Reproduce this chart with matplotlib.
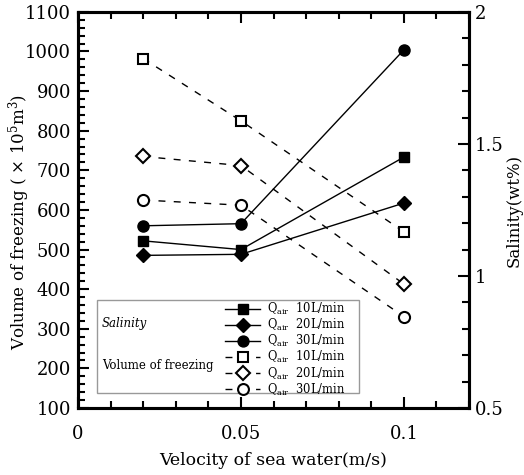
import matplotlib
matplotlib.use("Agg")
import matplotlib.pyplot as plt
from matplotlib.patches import Rectangle
from matplotlib.ticker import MultipleLocator

plt.rcParams['font.family'] = 'DejaVu Serif'
plt.rcParams['mathtext.fontset'] = 'dejavuserif'

# data
velocity = [0.02, 0.05, 0.1]
flow_labels = ['10L/min', '20L/min', '30L/min']
salinity_10 = [1.133, 1.100, 1.450]
salinity_20 = [1.078, 1.082, 1.276]
salinity_30 = [1.190, 1.198, 1.856]
freezing_10 = [982, 825, 545]
freezing_20 = [735, 712, 413]
freezing_30 = [625, 612, 331]

fig = plt.figure(figsize=(5.24, 4.75), dpi=100)
ax = fig.add_axes([0.149, 0.141, 0.746, 0.834])
ax2 = ax.twinx()

markers = ['s', 'D', 'o']
msizes = [7.5, 7, 8]
handles = []
for vals, m, ms in zip([salinity_10, salinity_20, salinity_30], markers, msizes):
    h, = ax2.plot(velocity, vals, '-', color='black', lw=1.0, marker=m, ms=ms,
                  mfc='black', mec='black')
    handles.append(h)
for vals, m, ms in zip([freezing_10, freezing_20, freezing_30], markers, msizes):
    h, = ax.plot(velocity, vals, color='black', lw=1.0, dashes=(5, 6), marker=m, ms=ms,
                 mfc='white', mec='black', mew=1.5)
    handles.append(h)

ax.set_xlim(0, 0.12)
ax.set_ylim(100, 1100)
ax2.set_ylim(0.5, 2)
ax.set_xticks([0, 0.05, 0.1])
ax.set_xticklabels(['0', '0.05', '0.1'])
ax.xaxis.set_minor_locator(MultipleLocator(0.01))
ax.yaxis.set_major_locator(MultipleLocator(100))
ax.yaxis.set_minor_locator(MultipleLocator(20))
ax2.set_yticks([0.5, 1, 1.5, 2])
ax2.set_yticklabels(['0.5', '1', '1.5', '2'])
ax2.yaxis.set_minor_locator(MultipleLocator(0.1))

for a in (ax, ax2):
    for s in a.spines.values():
        s.set_linewidth(2.2)
ax.tick_params(which='both', direction='in', top=True, labelsize=13, width=1.5)
ax.tick_params(axis='x', pad=12)
ax.tick_params(axis='y', pad=5)
ax.tick_params(which='major', length=8)
ax.tick_params(which='minor', length=5)
ax2.tick_params(which='both', direction='in', labelsize=13, width=1.5, pad=4)
ax2.tick_params(which='major', length=8)
ax2.tick_params(which='minor', length=5)

ax.set_xlabel('Velocity of sea water(m/s)', fontsize=12.5, labelpad=7)
ax.set_ylabel('Volume of freezing ( $\\times$ 10$^5$m$^3$)', fontsize=12)
ax.yaxis.set_label_coords(-0.118, 0.47)
ax2.set_ylabel('Salinity(wt%)', fontsize=12, labelpad=2)

# legend box with group captions
ax2.add_patch(Rectangle((0.049, 0.038), 0.67, 0.235, transform=ax2.transAxes,
                        facecolor='white', edgecolor='#999999', lw=1.0, zorder=5))
ax2.text(0.061, 0.214, 'Salinity', transform=ax2.transAxes, fontsize=8.5,
         style='italic', va='center', zorder=6)
ax2.text(0.061, 0.108, 'Volume of freezing', transform=ax2.transAxes, fontsize=8.5,
         va='center', zorder=6)
labels = ['Q$_{\\rm air}$  ' + f for f in flow_labels] * 2
leg = ax2.legend(handles, labels, loc='upper left', bbox_to_anchor=(0.372, 0.273),
                 frameon=False, fontsize=8.3, handlelength=3.1, handletextpad=0.6,
                 labelspacing=0.0, borderpad=0.1, borderaxespad=0, markerscale=0.98)
leg.set_zorder(7)

fig.savefig('out.png', dpi=100)
